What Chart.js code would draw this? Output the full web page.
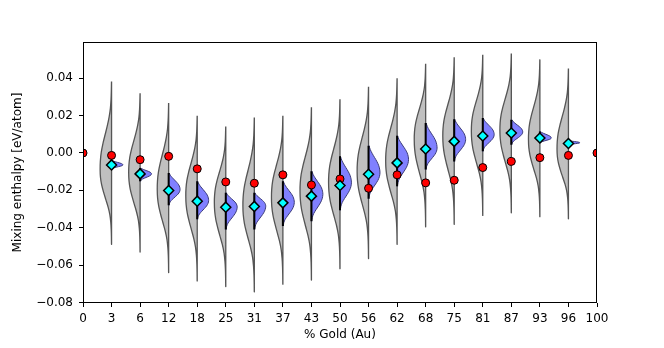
<!DOCTYPE html>
<html>
<head>
<meta charset="utf-8">
<script src="https://cdn.jsdelivr.net/npm/chart.js@4/dist/chart.umd.min.js"></script>
<style>
  body { margin: 0; background: #fff; }
</style>
</head>
<body>
<canvas id="chart" width="664" height="348"></canvas>
<script>
const xLabels = ['0', '3', '6', '12', '18', '25', '31', '37', '43', '50', '56', '62', '68', '75', '81', '87', '93', '96', '100'];
const yTicks = [-0.08, -0.06, -0.04, -0.02, 0, 0.02, 0.04];

// red dots, one per composition (0 .. 100)
const refValues = [0, -0.0013, -0.0036, -0.0018, -0.0085, -0.0155, -0.0162, -0.0117, -0.0171, -0.0139,
  -0.0189, -0.0117, -0.016, -0.0146, -0.0078, -0.0045, -0.0025, -0.0013, 0];

// the rest are for compositions 3 .. 96 (positions 1 .. 17)
const meanValues = [-0.0064, -0.0112, -0.0201, -0.0258, -0.029, -0.0286, -0.0267, -0.0231, -0.0174,
  -0.0114, -0.0053, 0.0021, 0.0062, 0.0091, 0.0107, 0.008, 0.0051];

// grey violins: extent and where they are widest
const greyTop = [0.0382, 0.032, 0.0267, 0.0199, 0.0142, 0.019, 0.0199, 0.0245, 0.0288, 0.0355,
  0.040, 0.0478, 0.0512, 0.0526, 0.0533, 0.0501, 0.0452];
const greyBottom = [-0.0489, -0.053, -0.064, -0.0685, -0.0715, -0.0743, -0.0702, -0.068, -0.0619,
  -0.0565, -0.0489, -0.0395, -0.0382, -0.0334, -0.032, -0.0341, -0.0352];
const greyPeak = [-0.009, -0.0107, -0.0196, -0.0231, -0.0267, -0.0285, -0.024, -0.0205, -0.016,
  -0.010, -0.0045, 0.0071, 0.0089, 0.0115, 0.012, 0.0071, 0.0018];

// blue violins (same extent as the black bar)
const blueTop = [-0.004, -0.008, -0.0107, -0.0152, -0.0213, -0.0213, -0.0152, -0.0098, -0.0018,
  0.0039, 0.0092, 0.016, 0.0181, 0.0187, 0.0178, 0.0115, 0.0066];
const blueBottom = [-0.0085, -0.0151, -0.028, -0.0355, -0.0409, -0.0409, -0.0391, -0.0365, -0.0306,
  -0.0245, -0.0178, -0.0089, -0.0045, 0.0009, 0.0044, 0.0053, 0.0043];
const bluePeak = [-0.0064, -0.0112, -0.0196, -0.0255, -0.029, -0.0285, -0.0265, -0.0222, -0.016,
  -0.0107, -0.0036, 0.0026, 0.0071, 0.0098, 0.0112, 0.008, 0.0055];

// relative widths, from the widest point out to the ends
const greyShapeUp = [1, 0.98, 0.9, 0.75, 0.56, 0.37, 0.21, 0.1, 0.045, 0.02, 0.005];
const greyShapeDown = [1, 0.97, 0.87, 0.7, 0.5, 0.3, 0.15, 0.07, 0.03, 0.012, 0.005];
const blueShapeUp = [1, 0.97, 0.88, 0.72, 0.52, 0.32, 0.15, 0.04];
const blueShapeDown = [1, 0.95, 0.82, 0.62, 0.4, 0.2, 0.08, 0.02];

const maxHalfWidth = 0.4;

function violinOutline(pos, top, peak, bottom, shapeUp, shapeDown, side) {
  const pts = [];
  const nUp = shapeUp.length - 1;
  for (let k = nUp; k >= 0; k--) {
    pts.push({ x: pos + side * maxHalfWidth * shapeUp[k], y: peak + (top - peak) * k / nUp });
  }
  const nDown = shapeDown.length - 1;
  for (let k = 1; k <= nDown; k++) {
    pts.push({ x: pos + side * maxHalfWidth * shapeDown[k], y: peak + (bottom - peak) * k / nDown });
  }
  pts.push({ x: pos, y: bottom });
  pts.push({ x: pos, y: top });
  return pts;
}

const datasets = [];

meanValues.forEach((_, i) => {
  const pos = i + 1;
  datasets.push({
    data: violinOutline(pos, greyTop[i], greyPeak[i], greyBottom[i], greyShapeUp, greyShapeDown, -1),
    showLine: true, fill: 'shape', tension: 0.3,
    backgroundColor: '#c0c0c0', borderColor: '#555555', borderWidth: 1.3,
    pointRadius: 0, order: 5
  });
  datasets.push({
    data: violinOutline(pos, blueTop[i], bluePeak[i], blueBottom[i], blueShapeUp, blueShapeDown, 1),
    showLine: true, fill: 'shape', tension: 0.3,
    backgroundColor: '#8080ff', borderColor: '#3c3c78', borderWidth: 1,
    pointRadius: 0, order: 4
  });
  datasets.push({
    data: [{ x: pos, y: blueTop[i] }, { x: pos, y: blueBottom[i] }],
    showLine: true, borderColor: '#000', borderWidth: 2,
    pointRadius: 0, order: 3
  });
});

datasets.push({
  data: refValues.map((v, i) => ({ x: i, y: v })),
  pointStyle: 'circle', pointRadius: 4,
  backgroundColor: '#ff0000', borderColor: '#000', borderWidth: 1,
  clip: 0, order: 2
});

datasets.push({
  data: meanValues.map((v, i) => ({ x: i + 1, y: v })),
  pointStyle: 'rectRot', pointRadius: 5,
  backgroundColor: '#00ffff', borderColor: '#000', borderWidth: 1.5,
  order: 1
});

const frame = {
  id: 'frame',
  afterDraw(chart) {
    const { ctx, chartArea: a } = chart;
    ctx.save();
    ctx.strokeStyle = '#000';
    ctx.lineWidth = 1;
    ctx.strokeRect(Math.round(a.left) + 0.5, Math.round(a.top) + 0.5,
      Math.round(a.right - a.left) - 1, Math.round(a.bottom - a.top) - 1);
    ctx.restore();
  }
};

Chart.defaults.font.family = 'DejaVu Sans';
Chart.defaults.font.size = 12;
Chart.defaults.color = '#000';

new Chart(document.getElementById('chart'), {
  type: 'scatter',
  data: { datasets },
  options: {
    responsive: false,
    animation: false,
    devicePixelRatio: 1,
    layout: { padding: { top: 42, right: 67, bottom: 6, left: 11 } },
    plugins: { legend: { display: false }, tooltip: { enabled: false } },
    scales: {
      x: {
        type: 'linear', min: 0, max: 18,
        afterBuildTicks: s => { s.ticks = xLabels.map((_, i) => ({ value: i })); },
        afterFit: s => { s.height = 39; },
        ticks: { callback: v => xLabels[v], autoSkip: false, maxRotation: 0, padding: 5 },
        grid: { drawOnChartArea: false, tickLength: 4, color: '#000' },
        border: { display: false },
        title: { display: true, text: '% Gold (Au)', padding: { top: 0, bottom: 0 } }
      },
      y: {
        type: 'linear', min: -0.0803, max: 0.0594,
        afterBuildTicks: s => { s.ticks = yTicks.map(v => ({ value: v })); },
        afterFit: s => { s.width = 72; },
        ticks: {
          callback: v => (v < 0 ? '\u2212' : '') + Math.abs(v).toFixed(2),
          padding: 6
        },
        grid: { drawOnChartArea: false, tickLength: 4, color: '#000' },
        border: { display: false },
        title: { display: true, text: 'Mixing enthalpy [eV/atom]', padding: { top: 0, bottom: 4 } }
      }
    }
  },
  plugins: [frame]
});
</script>
</body>
</html>
